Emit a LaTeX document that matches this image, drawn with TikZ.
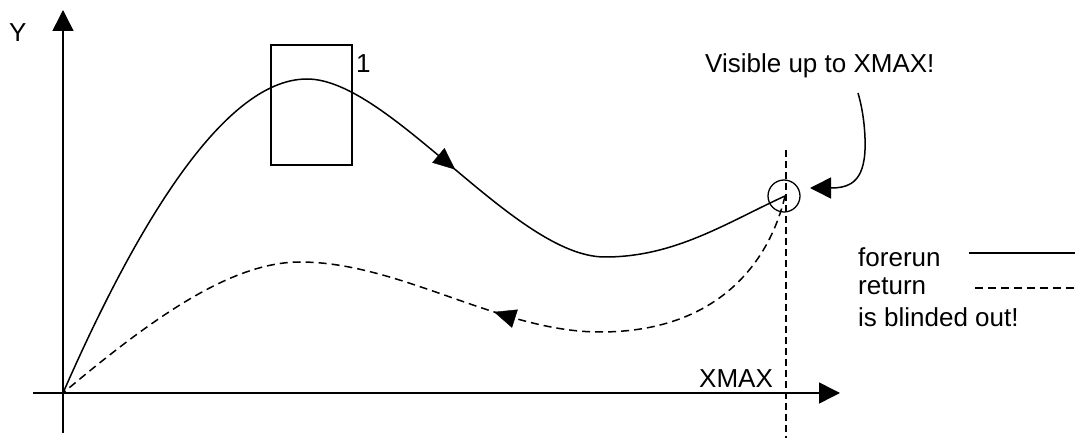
\documentclass[tikz,border=0pt]{standalone}
\usepackage{fontspec}
\setmainfont{Liberation Sans}
\usetikzlibrary{arrows.meta,decorations.markings}
\tikzset{
  lbl/.style={anchor=base west,inner sep=0pt,font=\fontsize{26}{30}\selectfont},
  ln/.style={line width=1.5pt},
  dsh/.style={line width=1.5pt,dash pattern=on 8pt off 5pt},
  tip/.style={-{Triangle[length=21pt,width=21pt]}},
  midarrow/.style={decorate,decoration={markings,mark=at position #1 with {\arrow{Triangle[length=22pt,width=19pt]}}}}
}
\begin{document}
\begin{tikzpicture}[x=1pt,y=-1pt]
\useasboundingbox (0,0) rectangle (1080,438);
% coordinates
\coordinate (O) at (63,393);
\coordinate (ytop) at (63,10);
\coordinate (ybot) at (63,433);
\coordinate (xleft) at (33,393);
\coordinate (xright) at (840,393);
\coordinate (vtop) at (786,150);
\coordinate (vbot) at (786,438);
\coordinate (peak) at (307,79);
\coordinate (smin) at (605,257);
\coordinate (E) at (785,196);
\coordinate (dpeak) at (300,262);
\coordinate (dmin) at (600,332);
\coordinate (astart) at (858,93);
\coordinate (atip) at (810,188);
% axes
\draw[ln,tip] (ybot) -- (ytop);
\draw[ln,tip] (xleft) -- (xright);
\draw[line width=1.3pt,dash pattern=on 7pt off 4pt] (vtop) -- (vbot);
% labels
\node[lbl] (ylab) at (9,42) {Y};
\node[lbl] (xmax) at (699,388) {XMAX};
\node[lbl] (vis) at (705,73) {Visible up to XMAX!};
\node[lbl] (one) at (356,73) {1};
% box
\node[draw,line width=1.3pt,minimum width=81pt,minimum height=120pt,inner sep=0pt] (box) at (311.5,105) {};
% forerun curve
\draw[ln] (O) .. controls (130,240) and (220,79) .. (peak)
  .. controls (390,79) and (515,257) .. (smin)
  .. controls (675,257) and (726,223) .. (E);
\path[midarrow=0.5] (peak) .. controls (390,79) and (515,257) .. (smin);
% return curve
\draw[dsh] (E) .. controls (770,260) and (720,332) .. (dmin)
  .. controls (500,332) and (400,262) .. (dpeak)
  .. controls (230,262) and (150,320) .. (O);
\path[midarrow=0.35] (dmin) .. controls (500,332) and (400,262) .. (dpeak);
% circle
\node[draw,circle,line width=1.3pt,minimum size=32pt,inner sep=0pt] (circ) at (784,196) {};
% pointer arrow
\draw[ln,tip] (astart) .. controls (866,120) and (866,150) .. (864,160)
  .. controls (860,185) and (845,188) .. (atip);
% legend
\node[lbl] (fore) at (858,267) {forerun};
\node[lbl] (ret) at (858,295) {return};
\node[lbl] (blind) at (858,327) {is blinded out!};
\coordinate (l1a) at (969,253);
\coordinate (l1b) at (1075,253);
\coordinate (l2a) at (975,288);
\coordinate (l2b) at (1078,288);
\draw[ln] (l1a) -- (l1b);
\draw[line width=1.3pt,dash pattern=on 8pt off 5pt] (l2a) -- (l2b);
\end{tikzpicture}
\end{document}
